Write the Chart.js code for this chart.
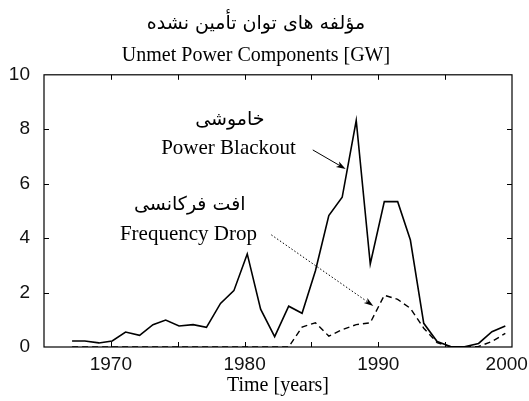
<!DOCTYPE html>
<html>
<head>
<meta charset="utf-8">
<script src="https://cdn.jsdelivr.net/npm/chart.js@4.4.0/dist/chart.umd.min.js"></script>
<style>
  html, body { margin: 0; padding: 0; background: #fff; }
  #wrap { width: 529px; height: 401px; }
</style>
</head>
<body>
<div id="wrap"><canvas id="chart"></canvas></div>
<script>
// Data (time in years, values in GW)
const years = [1967.1, 1968.05, 1969.1, 1970.1, 1971.1, 1972.15, 1973.15, 1974.1, 1975.1, 1976.15,
  1977.15, 1978.2, 1979.2, 1980.2, 1981.2, 1982.25, 1983.3, 1984.3, 1985.3, 1986.3,
  1987.3, 1988.35, 1989.4, 1990.45, 1991.45, 1992.4, 1993.4, 1994.4, 1995.45, 1996.45,
  1997.5, 1998.5, 1999.5];
const blackout = [0.22, 0.22, 0.15, 0.22, 0.55, 0.43, 0.82, 0.99, 0.77, 0.82,
  0.72, 1.6, 2.07, 3.42, 1.39, 0.38, 1.5, 1.24, 2.8, 4.83,
  5.5, 8.32, 3.05, 5.34, 5.34, 3.93, 0.87, 0.2, 0.01, 0.01,
  0.13, 0.56, 0.77];
const freqDrop = [0, 0, 0, 0, 0, 0, 0, 0, 0, 0,
  0, 0, 0, 0, 0, 0, 0, 0.73, 0.89, 0.4,
  0.64, 0.82, 0.89, 1.9, 1.75, 1.42, 0.69, 0.16, 0, 0,
  0.02, 0.2, 0.5];
const xLabels = [1970, 1980, 1990, 2000];

const titleFa = "مؤلفه های توان تأمین نشده";
const titleEn = "Unmet Power Components [GW]";
const xTitle = "Time [years]";

const serif = "'Liberation Serif', 'Times New Roman', serif";
const sans = "'Liberation Sans', Arial, sans-serif";
const faFont = "'DejaVu Sans', sans-serif";

// frame, inward ticks, and the two labelled arrows
const framePlugin = {
  id: "frame",
  afterDatasetsDraw(chart) {
    const ctx = chart.ctx;
    const a = chart.chartArea;
    const xs = chart.scales.x, ys = chart.scales.y;
    ctx.save();
    ctx.strokeStyle = "#000";
    ctx.lineWidth = 1.2;
    ctx.strokeRect(a.left, a.top, a.right - a.left, a.bottom - a.top);
    ctx.lineWidth = 1;
    ctx.beginPath();
    xs.ticks.forEach(t => {
      if (t.value <= xs.min || t.value >= xs.max) return;
      const px = Math.round(xs.getPixelForValue(t.value)) + 0.5;
      ctx.moveTo(px, a.bottom); ctx.lineTo(px, a.bottom - 5);
      ctx.moveTo(px, a.top); ctx.lineTo(px, a.top + 5);
    });
    ys.ticks.forEach(t => {
      if (t.value <= ys.min || t.value >= ys.max) return;
      const py = Math.round(ys.getPixelForValue(t.value)) + 0.5;
      ctx.moveTo(a.left, py); ctx.lineTo(a.left + 5, py);
      ctx.moveTo(a.right, py); ctx.lineTo(a.right - 5, py);
    });
    ctx.stroke();

    function arrow(x1, y1, x2, y2, dash) {
      const p1x = xs.getPixelForValue(x1), p1y = ys.getPixelForValue(y1);
      const p2x = xs.getPixelForValue(x2), p2y = ys.getPixelForValue(y2);
      const ang = Math.atan2(p2y - p1y, p2x - p1x);
      ctx.setLineDash(dash);
      ctx.lineWidth = 1;
      ctx.beginPath();
      ctx.moveTo(p1x, p1y);
      ctx.lineTo(p2x - 6 * Math.cos(ang), p2y - 6 * Math.sin(ang));
      ctx.stroke();
      ctx.setLineDash([]);
      const len = 10, w = 0.32;
      ctx.beginPath();
      ctx.moveTo(p2x, p2y);
      ctx.lineTo(p2x - len * Math.cos(ang - w), p2y - len * Math.sin(ang - w));
      ctx.lineTo(p2x - len * 0.7 * Math.cos(ang), p2y - len * 0.7 * Math.sin(ang));
      ctx.lineTo(p2x - len * Math.cos(ang + w), p2y - len * Math.sin(ang + w));
      ctx.closePath();
      ctx.fillStyle = "#000";
      ctx.fill();
    }
    arrow(1985.1, 7.24, 1987.56, 6.54, []);
    arrow(1982.0, 4.12, 1989.63, 1.51, [1.5, 2]);

    ctx.fillStyle = "#000";
    ctx.textAlign = "center";
    ctx.textBaseline = "middle";
    ctx.font = "19px " + faFont;
    ctx.fillText("خاموشی", xs.getPixelForValue(1978.9), ys.getPixelForValue(8.35));
    ctx.fillText("افت فرکانسی", xs.getPixelForValue(1975.9), ys.getPixelForValue(5.2));
    ctx.font = "21px " + serif;
    ctx.fillText("Power Blackout", xs.getPixelForValue(1978.8), ys.getPixelForValue(7.3));
    ctx.fillText("Frequency Drop", xs.getPixelForValue(1975.8), ys.getPixelForValue(4.12));
    ctx.restore();
  }
};

const ctx = document.getElementById("chart").getContext("2d");
new Chart(ctx, {
  type: "line",
  data: {
    datasets: [
      {
        label: "Power Blackout",
        data: years.map((x, i) => ({ x: x, y: blackout[i] })),
        borderColor: "#000",
        borderWidth: 1.6,
        pointRadius: 0,
        tension: 0,
        fill: false,
      },
      {
        label: "Frequency Drop",
        data: years.map((x, i) => ({ x: x, y: freqDrop[i] })),
        borderColor: "#000",
        borderWidth: 1.4,
        borderDash: [6, 4],
        pointRadius: 0,
        tension: 0,
        fill: false,
      },
    ],
  },
  options: {
    responsive: true,
    maintainAspectRatio: false,
    animation: false,
    layout: { padding: { left: 0, right: 17, top: 0, bottom: 0 } },
    plugins: {
      legend: { display: false },
      tooltip: { enabled: false },
      title: {
        display: true,
        text: titleFa,
        color: "#000",
        font: { family: faFont, size: 19, weight: "normal", lineHeight: 1.2 },
        padding: { top: 13, bottom: 4 },
      },
      subtitle: {
        display: true,
        text: titleEn,
        color: "#000",
        font: { family: serif, size: 20, lineHeight: 1.2 },
        padding: { top: 4, bottom: 7 },
      },
    },
    scales: {
      x: {
        type: "linear",
        min: 1965,
        max: 2000,
        grid: { display: false, drawTicks: false },
        border: { display: false },
        ticks: {
          stepSize: 5,
          color: "#111",
          font: { family: sans, size: 19 },
          padding: 6,
          maxRotation: 0,
          autoSkip: false,
          callback: v => xLabels.includes(v) ? (v === 2000 ? v + "  " : String(v)) : "",
        },
        title: {
          display: true,
          text: xTitle,
          color: "#000",
          font: { family: serif, size: 20, lineHeight: 1 },
          padding: { top: 0, bottom: 5 },
        },
        afterFit: s => { s.height = 54; s.paddingRight = 0; s.paddingLeft = 0; },
      },
      y: {
        min: 0,
        max: 10,
        grid: { display: false, drawTicks: false },
        border: { display: false },
        ticks: {
          stepSize: 2,
          color: "#111",
          font: { family: sans, size: 19 },
          padding: 14,
        },
        afterFit: s => { s.width = 44; },
      },
    },
  },
  plugins: [framePlugin],
});
</script>
</body>
</html>
